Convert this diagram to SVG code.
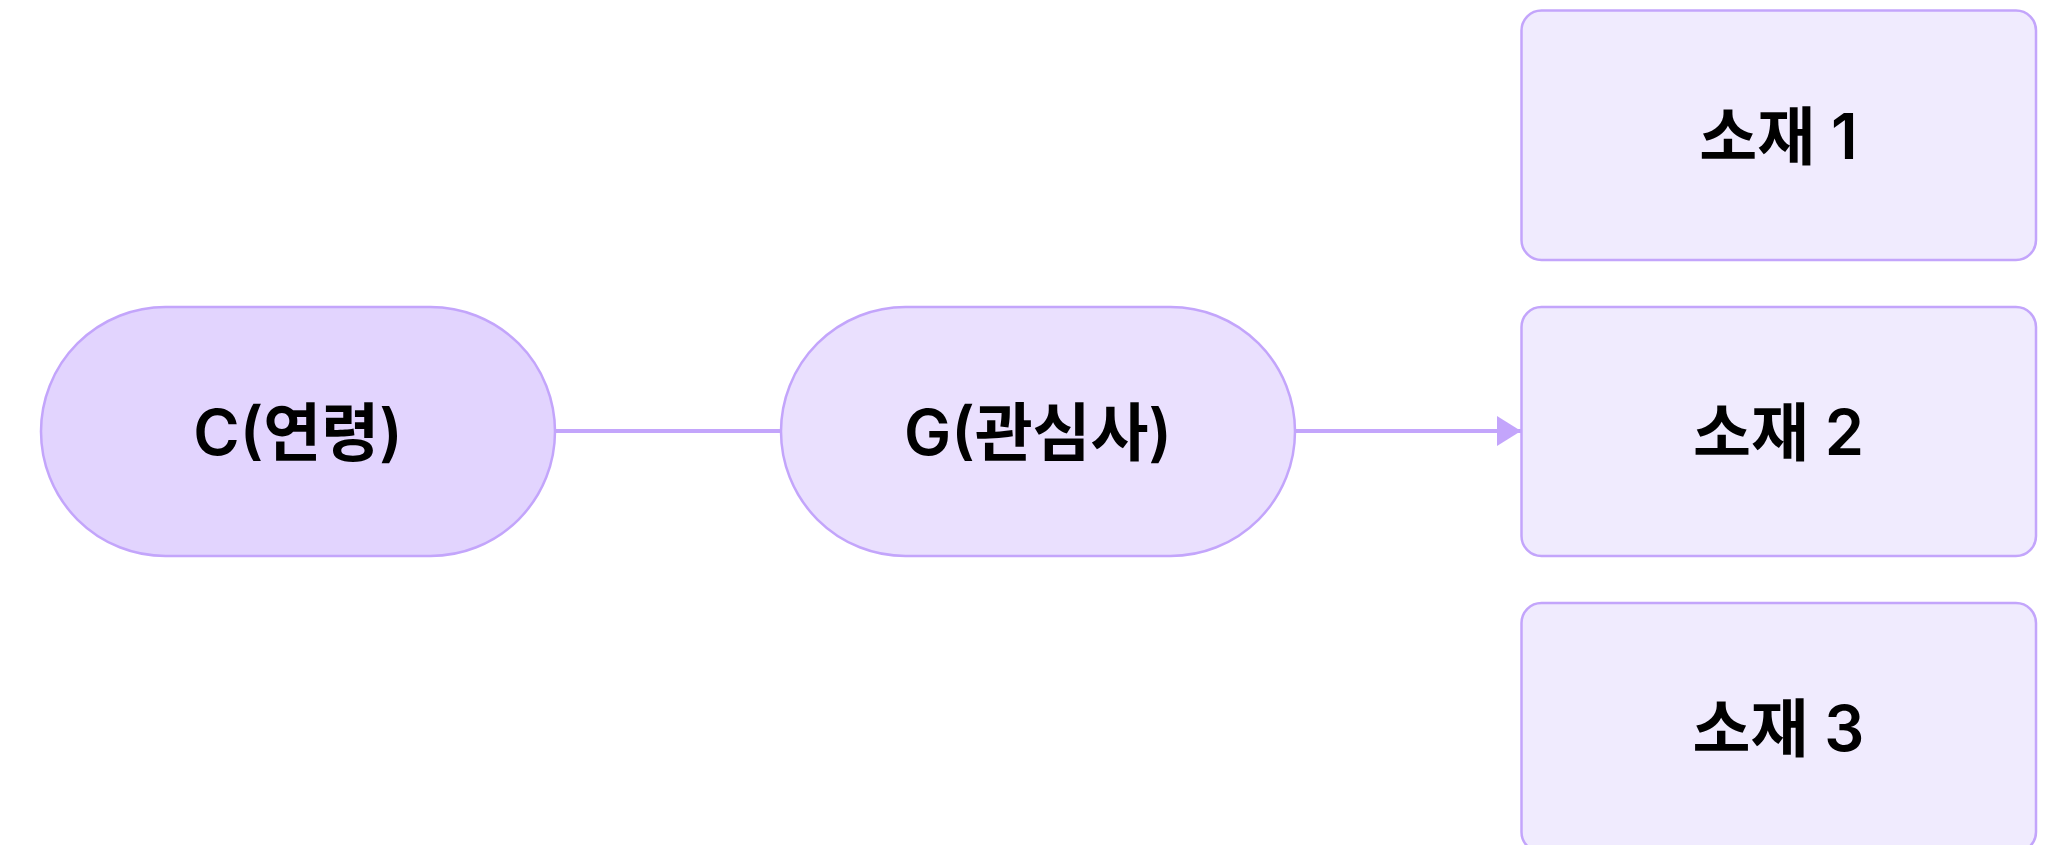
<svg xmlns="http://www.w3.org/2000/svg" width="2060" height="845" viewBox="0 0 2060 845">
<style>
.edge{stroke:#c3a5fb;stroke-width:4;fill:none}
.node{stroke:#c3a5fb;stroke-width:2.5}
.lbl{font-family:Inter,"Noto Sans CJK KR","Noto Sans",sans-serif;font-size:63px;font-weight:600;fill:#000;text-anchor:middle;dominant-baseline:central}
</style>
<defs>
<marker id="arr" markerWidth="24" markerHeight="30" refX="24" refY="15" orient="auto" markerUnits="userSpaceOnUse">
<path d="M0,0 L24,15 L0,30 Z" fill="#c3a5fb"/>
</marker>
</defs>
<rect width="2060" height="845" fill="#ffffff"/>
<g id="edges">
<line class="edge" x1="555" y1="431" x2="781" y2="431"/>
<line class="edge" x1="1295" y1="431" x2="1521" y2="431" marker-end="url(#arr)"/>
</g>
<g id="node-C">
<rect class="node" x="41" y="307" width="514" height="249" rx="124.5" fill="#e2d4fe"/>
<text class="lbl" x="298" y="432">C(연령)</text>
</g>
<g id="node-G">
<rect class="node" x="781" y="307" width="514" height="249" rx="124.5" fill="#eae0fe"/>
<text class="lbl" x="1038" y="432">G(관심사)</text>
</g>
<g id="node-1">
<rect class="node" x="1521.5" y="10.5" width="514.5" height="249.5" rx="20" fill="#f0ebfe"/>
<text class="lbl" x="1778.5" y="136">소재 1</text>
</g>
<g id="node-2">
<rect class="node" x="1521.5" y="307" width="514.5" height="249" rx="20" fill="#f0ebfe"/>
<text class="lbl" x="1778.5" y="432">소재 2</text>
</g>
<g id="node-3">
<rect class="node" x="1521.5" y="603" width="514.5" height="249" rx="20" fill="#f0ebfe"/>
<text class="lbl" x="1778.5" y="728">소재 3</text>
</g>
</svg>
